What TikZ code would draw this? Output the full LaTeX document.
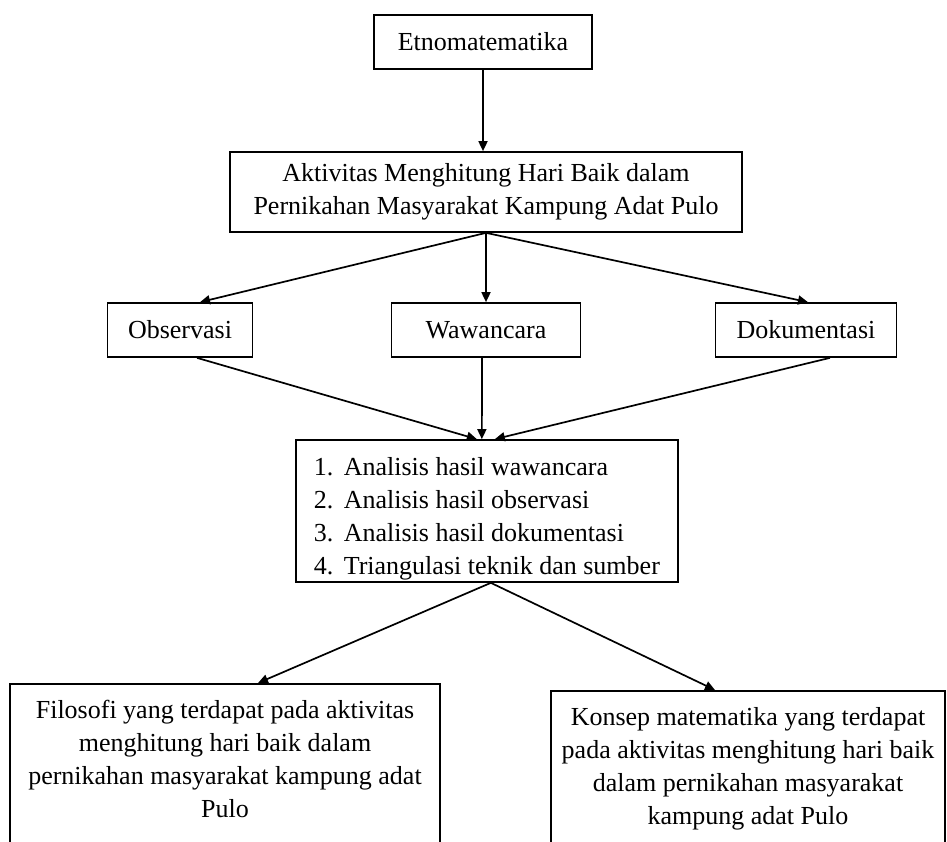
\documentclass[tikz,border=0pt]{standalone}
\usepackage{fontspec}
\setmainfont{Liberation Serif}
\usetikzlibrary{arrows.meta}
\tikzset{
  box/.style={draw, line width=1.7pt, inner sep=0pt, font=\fontsize{26}{33}\selectfont, align=center},
  arr/.style={line width=1.7pt, -{Triangle[length=10pt,width=9pt]}},
}
\begin{document}
\begin{tikzpicture}[x=1pt,y=-1pt]
\useasboundingbox (0,0) rectangle (947,842);
\clip (0,0) rectangle (947,842);
\node[box, minimum width=218pt, minimum height=54pt] (etno) at (483,42) {Etnomatematika};
\node[box, minimum width=512pt, minimum height=80pt] (akt) at (486,192)
  {Aktivitas Menghitung Hari Baik dalam\\Pernikahan Masyarakat Kampung Adat Pulo};
\node[box, minimum width=145pt, minimum height=54pt] (obs) at (180,330) {Observasi};
\node[box, minimum width=189pt, minimum height=54pt] (waw) at (486,330) {Wawancara};
\node[box, minimum width=181pt, minimum height=54pt] (dok) at (806,330) {Dokumentasi};
\node[box, minimum width=382pt, minimum height=142pt, align=left, inner xsep=17pt, anchor=west] (list) at (295,511)
  {\rule{0pt}{33pt}\makebox[30pt][l]{1.}Analisis hasil wawancara\\
   \makebox[30pt][l]{2.}Analisis hasil observasi\\
   \makebox[30pt][l]{3.}Analisis hasil dokumentasi\\
   \makebox[30pt][l]{4.}Triangulasi teknik dan sumber};
\node[box, anchor=north, inner xsep=10pt, inner ysep=12pt] (fil) at (225,683)
  {\parbox[t][200pt][t]{410pt}{\centering\strut Filosofi yang terdapat pada aktivitas\\menghitung hari baik dalam\\pernikahan masyarakat kampung adat\\Pulo}};
\node[box, anchor=north, inner xsep=6pt, inner ysep=12pt] (kon) at (748,690)
  {\parbox[t][200pt][t]{382pt}{\centering\strut Konsep matematika yang terdapat\\pada aktivitas menghitung hari baik\\dalam pernikahan masyarakat\\kampung adat Pulo}};
\draw[arr] (etno.south) -- (etno.south |- akt.north);
\draw[arr] (akt.south) -- ([xshift=20pt]obs.north);
\draw[arr] (akt.south) -- (akt.south |- waw.north);
\draw[arr] (akt.south) -- ([xshift=2pt]dok.north);
\draw[arr] ([xshift=17pt]obs.south) -- ([xshift=-10pt]list.north);
\draw[arr] ([xshift=-4pt]waw.south) -- ([xshift=-5pt]list.north);
\draw[arr] ([xshift=24pt]dok.south) -- ([xshift=8pt]list.north);
\draw[arr] ([xshift=4pt]list.south) -- ([xshift=33pt]fil.north);
\draw[arr] ([xshift=4pt]list.south) -- ([xshift=-33pt]kon.north);
\end{tikzpicture}
\end{document}
